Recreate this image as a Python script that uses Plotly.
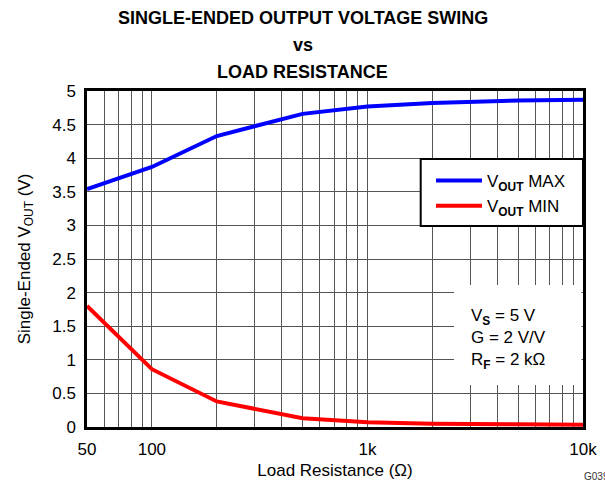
import plotly.graph_objects as go

# Load resistance sweep (ohms) and measured single-ended output swing (V)
load_ohms = [50, 100, 200, 500, 1000, 2000, 5000, 10000]
vout_max = [3.54, 3.87, 4.33, 4.66, 4.77, 4.82, 4.86, 4.87]
vout_min = [1.80, 0.86, 0.38, 0.13, 0.07, 0.05, 0.04, 0.035]

# Log-axis grid positions and their labels (blank = grid line only)
x_grid = [50, 60, 70, 80, 90,
          100, 200, 300, 400, 500, 600, 700, 800, 900,
          1000, 2000, 3000, 4000, 5000, 6000, 7000, 8000, 9000, 10000]
x_names = {50: "50", 100: "100", 1000: "1k", 10000: "10k"}
x_text = [x_names.get(v, "") for v in x_grid]

y_ticks = [0, 0.5, 1, 1.5, 2, 2.5, 3, 3.5, 4, 4.5, 5]
y_text = ["0", "0.5", "1", "1.5", "2", "2.5", "3", "3.5", "4", "4.5", "5"]

FONT = "Liberation Sans, Arial, Helvetica, sans-serif"
W, H = 605, 480
ML, MR, MT, MB = 87, 22, 91, 53
PW, PH = W - ML - MR, H - MT - MB


def px(x):
    return (x - ML) / PW


def py(y):
    return (H - MB - y) / PH


fig = go.Figure()
fig.add_trace(go.Scatter(
    x=load_ohms, y=vout_max, mode="lines",
    name="V<sub><b>OUT</b></sub> MAX",
    line=dict(color="#0000ff", width=4),
))
fig.add_trace(go.Scatter(
    x=load_ohms, y=vout_min, mode="lines",
    name="V<sub><b>OUT</b></sub> MIN",
    line=dict(color="#ff0000", width=4),
))

grid_color = "#555555"
fig.update_xaxes(
    type="log", range=[1.69897, 4.0],
    tickmode="array", tickvals=x_grid, ticktext=x_text,
    showgrid=True, gridcolor=grid_color, gridwidth=1,
    showline=True, linecolor="black", linewidth=2.5, mirror=True,
    ticks="", zeroline=False, ticklabelstandoff=5,
    tickfont=dict(family=FONT, size=17, color="black"),
    title=dict(text="Load Resistance (Ω)", standoff=6,
               font=dict(family=FONT, size=17, color="black")),
)
fig.update_yaxes(
    range=[0, 5], tickmode="array", tickvals=y_ticks, ticktext=y_text,
    showgrid=True, gridcolor=grid_color, gridwidth=1,
    showline=True, linecolor="black", linewidth=2.5, mirror=True,
    ticks="", zeroline=False, ticklabelstandoff=5,
    tickfont=dict(family=FONT, size=17, color="black"),
    title=dict(text="Single-Ended V<sub>OUT</sub> (V)", standoff=18,
               font=dict(family=FONT, size=17, color="black")),
)

# Legend frame and the condition box (white panels over the grid)
fig.add_shape(type="rect", xref="paper", yref="paper",
              x0=px(420.7), x1=1.0, y0=py(226), y1=py(159),
              line=dict(color="black", width=2), fillcolor="white",
              layer="above")
fig.add_shape(type="rect", xref="paper", yref="paper",
              x0=px(454), x1=px(581.5), y0=py(385), y1=py(285),
              line=dict(width=0), fillcolor="white", layer="above")

annotations = [
    dict(text="<b>SINGLE-ENDED OUTPUT VOLTAGE SWING</b>", y=py(18)),
    dict(text="<b>vs</b>", y=py(45)),
    dict(text="<b>LOAD RESISTANCE</b>", y=py(72)),
]
for a in annotations:
    fig.add_annotation(xref="paper", yref="paper", x=px(302.5), xanchor="center",
                       yanchor="middle", showarrow=False,
                       font=dict(family=FONT, size=18, color="black"), **a)

fig.add_annotation(
    xref="paper", yref="paper", x=px(469), y=py(339),
    xanchor="left", yanchor="middle", align="left", showarrow=False,
    text="V<sub><b>S</b></sub> = 5 V<br>G = 2 V/V<br>R<sub><b>F</b></sub> = 2 kΩ",
    font=dict(family=FONT, size=17, color="black"),
)
fig.add_annotation(
    xref="paper", yref="paper", x=px(582), y=py(476),
    xanchor="left", yanchor="middle", showarrow=False,
    text="G039", font=dict(family=FONT, size=10, color="#333333"),
)

fig.update_layout(
    width=W, height=H,
    margin=dict(l=ML, r=MR, t=MT, b=MB, autoexpand=False),
    paper_bgcolor="white", plot_bgcolor="white",
    showlegend=True,
    legend=dict(x=px(431), y=py(163), xanchor="left", yanchor="top",
                bgcolor="rgba(0,0,0,0)", borderwidth=0, itemwidth=46,
                font=dict(family=FONT, size=17, color="black"),
                tracegroupgap=0),
)

fig.write_html("out.html")
